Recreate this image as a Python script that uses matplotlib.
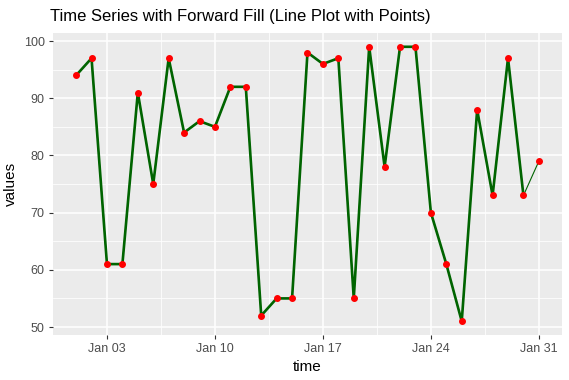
import numpy as np
import pandas as pd
import matplotlib
matplotlib.use("Agg")
import matplotlib.pyplot as plt
import matplotlib.dates as mdates
from matplotlib.ticker import MultipleLocator

plt.rcParams['font.family'] = ['Liberation Sans', 'DejaVu Sans']

dates = pd.date_range("2024-01-01", "2024-01-31", freq="D")
values = [94, 97, 61, 61, 91, 75, 97, 84, 86, 85,
          92, 92, 52, 55, 55, 98, 96, 97, 55, 99,
          78, 99, 99, 70, 61, 51, 88, 73, 97, 73, 79]
tick_dates = pd.to_datetime(["2024-01-03", "2024-01-10", "2024-01-17",
                             "2024-01-24", "2024-01-31"])
minor_dates = [d + pd.Timedelta(hours=84) for d in tick_dates[:-1]]

fig = plt.figure(figsize=(5.69, 3.80), dpi=100)
ax = fig.add_axes([0.0931, 0.1184, 0.8946, 0.7946])
ax.set_facecolor("#EBEBEB")
for s in ax.spines.values():
    s.set_visible(False)

# grid
ax.set_xticks(tick_dates)
ax.set_xticks(minor_dates, minor=True)
ax.yaxis.set_major_locator(MultipleLocator(10))
ax.yaxis.set_minor_locator(MultipleLocator(5))
ax.grid(which="major", color="white", lw=1.1)
ax.grid(which="minor", color="white", lw=0.55)
ax.set_axisbelow(True)

# thin line over everything, thick line up to Jan 30
ax.plot(dates, values, color="#006400", lw=0.8, zorder=2)
ax.plot(dates[:-1], values[:-1], color="#006400", lw=1.9, zorder=3)
ax.plot(dates, values, "o", color="red", ms=4, zorder=4)

ax.set_xlim(pd.Timestamp("2023-12-30 12:00"), pd.Timestamp("2024-02-01 12:00"))
ax.set_ylim(48.6, 101.4)
ax.xaxis.set_major_formatter(mdates.DateFormatter("%b %d"))

ax.tick_params(which="major", length=3, width=0.8, color="#333333",
               labelcolor="#4D4D4D", labelsize=9, pad=3)
ax.tick_params(which="minor", length=0)

ax.set_xlabel("time", fontsize=11, labelpad=3)
ax.set_ylabel("values", fontsize=11, labelpad=4)
ax.set_title("Time Series with Forward Fill (Line Plot with Points)",
             loc="left", fontsize=12, pad=9, x=-0.005)

fig.savefig("out.png", dpi=100)
